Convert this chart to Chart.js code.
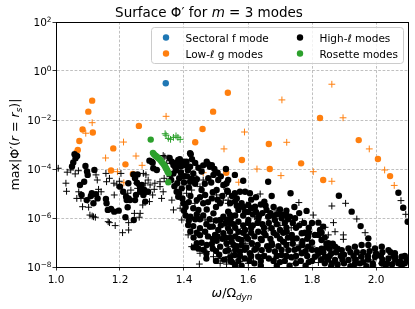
<!DOCTYPE html>
<html><head><meta charset="utf-8">
<script src="https://cdn.jsdelivr.net/npm/chart.js@4/dist/chart.umd.min.js"></script>
<style>html,body{margin:0;padding:0;background:#fff;}canvas{display:block;}</style>
</head><body>
<canvas id="c" width="415" height="309"></canvas>
<script>
// ---- data: [omega/Omega_dyn, log10(max|Phi'|)] ----
const xTickValues = [1.0, 1.2, 1.4, 1.6, 1.8, 2.0];
const yTickExponents = [-8, -6, -4, -2, 0, 2];

const sectoralCircles = [[1.343, -0.50]];

const lowCircles = [[1.068,-3.22],[1.073,-2.86],[1.083,-2.39],[1.101,-1.66],[1.113,-1.21],[1.115,-2.51],[1.172,-4.06],[1.179,-3.16],[1.217,-3.81],[1.240,-4.20],[1.259,-2.24],[1.435,-2.91],[1.458,-2.37],[1.491,-1.66],[1.537,-0.89],[1.532,-4.15],[1.581,-3.63],[1.665,-2.98],[1.668,-4.00],[1.766,-3.77],[1.825,-1.92],[1.835,-4.45],[1.946,-2.82],[2.006,-3.59],[2.044,-4.29]];

const lowPluses = [[1.066,-3.24],[1.093,-2.54],[1.113,-2.11],[1.155,-3.55],[1.192,-4.11],[1.211,-2.90],[1.212,-4.56],[1.250,-3.47],[1.269,-3.85],[1.344,-1.85],[1.460,-4.15],[1.525,-3.18],[1.571,-4.54],[1.589,-2.49],[1.628,-4.00],[1.703,-4.27],[1.706,-1.18],[1.721,-2.91],[1.804,-4.11],[1.862,-0.54],[1.862,-4.50],[1.897,-1.91],[1.979,-3.18],[2.027,-4.04],[2.057,-4.67]];

const roseCircles = [[1.296,-2.80],[1.303,-3.34],[1.306,-3.40],[1.310,-3.45],[1.313,-3.48],[1.317,-3.52],[1.321,-3.57],[1.326,-3.63],[1.330,-3.70],[1.334,-3.77],[1.338,-3.84],[1.341,-3.90],[1.344,-3.97],[1.347,-4.04],[1.349,-4.11],[1.352,-4.17],[1.351,-4.54]];

const rosePluses = [[1.341,-2.56],[1.344,-2.62],[1.351,-2.75],[1.358,-2.79],[1.367,-2.71],[1.375,-2.65],[1.381,-2.71],[1.388,-2.79]];

const highCircles = [
[1.054,-3.73],[1.058,-3.40],[1.061,-3.56],[1.075,-4.65],[1.080,-5.06],[1.088,-4.52],[1.092,-3.88],[1.097,-4.10],[1.099,-4.24],[1.096,-5.27],
[1.109,-5.10],[1.112,-4.99],[1.117,-5.40],[1.120,-4.04],[1.125,-5.03],[1.130,-5.20],[1.156,-5.22],[1.158,-5.40],[1.162,-5.67],[1.172,-5.63],
[1.182,-5.74],[1.196,-5.70],[1.200,-4.72],[1.210,-4.93],[1.217,-5.97],[1.219,-5.13],[1.221,-5.27],[1.227,-5.20],[1.224,-5.56],[1.226,-4.58],
[1.231,-5.27],[1.242,-4.22],[1.243,-6.08],[1.247,-4.38],[1.247,-5.27],[1.250,-5.06],[1.253,-4.56],[1.255,-4.22],[1.263,-4.93],[1.263,-4.72],
[1.268,-4.65],[1.273,-5.06],[1.276,-4.86],[1.279,-5.33],[1.288,-4.93],[1.292,-3.66],[1.299,-3.70],[1.302,-3.74],[1.304,-3.97],[1.315,-4.04],
[1.050,-3.90],[1.066,-3.47],
[1.367,-3.84],[1.372,-3.91],[1.382,-3.63],[1.387,-3.60],[1.393,-3.77],[1.400,-3.70],[1.408,-3.70],[1.419,-3.36],[1.421,-3.40],[1.419,-3.91],
[1.429,-4.18],[1.367,-4.18],[1.385,-4.38],[1.398,-4.31],[1.379,-4.58],[1.393,-4.79],[1.377,-4.93],[1.382,-5.13],[1.398,-5.40],[1.419,-4.52],
[1.440,-4.42],[1.471,-3.70],[1.476,-3.80],[1.481,-3.91],[1.487,-3.84],[1.476,-4.38],[1.492,-4.24],[1.507,-4.45],[1.523,-4.65],[1.535,-4.89],
[1.455,-4.86],[1.466,-5.06],[1.487,-5.20],[1.502,-4.86],[1.513,-5.40],[1.440,-5.27],[1.429,-5.60],[1.445,-5.67],[1.471,-5.65],[1.492,-5.81],
[1.413,-6.29],[1.429,-6.33],[1.450,-6.42],[1.466,-6.56],[1.481,-6.36],[1.497,-6.69],[1.507,-6.49],[1.523,-6.62],[1.538,-6.42],[1.440,-7.03],
[1.455,-7.01],[1.471,-7.10],[1.487,-7.06],[1.502,-6.93],[1.513,-7.17],[1.533,-7.03],[1.523,-5.95],[1.538,-5.74],[1.513,-6.08],[1.531,-4.00],
[1.420,-5.95],[1.450,-6.05],[1.480,-6.05],[1.400,-5.70],[1.460,-5.40],[1.500,-5.55],[1.420,-5.10],[1.450,-6.70],[1.430,-6.80],[1.460,-7.30],
[1.500,-7.35],[1.520,-6.85],
[1.355,-3.55],[1.362,-3.70],[1.375,-3.75],[1.390,-3.90],[1.405,-3.85],[1.412,-4.05],[1.425,-3.60],[1.435,-3.75],[1.445,-3.95],[1.455,-4.10],
[1.460,-3.85],[1.375,-4.05],[1.390,-4.15],[1.410,-4.30],[1.425,-4.40],[1.360,-4.45],[1.370,-4.70],[1.400,-4.55],[1.415,-4.75],[1.435,-4.60],
[1.465,-4.60],[1.485,-4.55],[1.495,-4.00],[1.505,-4.15],[1.515,-4.30],[1.385,-5.00],[1.395,-5.20],[1.405,-5.55],[1.415,-5.35],[1.450,-5.15],
[1.475,-5.35],[1.490,-4.95],[1.505,-5.25],[1.520,-5.10],
[1.405,-5.90],[1.415,-6.10],[1.435,-6.05],[1.440,-5.85],[1.460,-5.90],[1.470,-6.25],[1.490,-6.35],[1.500,-6.10],[1.515,-6.30],[1.530,-6.20],
[1.545,-6.05],[1.420,-6.55],[1.440,-6.60],[1.475,-6.75],[1.490,-6.85],[1.505,-6.75],[1.530,-6.80],[1.545,-6.80],[1.430,-7.20],[1.445,-7.25],
[1.470,-7.45],[1.490,-7.25],[1.510,-7.50],[1.530,-7.35],[1.545,-7.60],[1.525,-7.70],[1.500,-7.75],[1.470,-7.65],[1.560,-7.95],
[1.559,-4.24],[1.585,-4.48],[1.663,-4.52],[1.674,-5.10],[1.733,-4.99],[1.783,-5.71],[1.651,-5.33],[1.622,-5.54],[1.658,-5.67],[1.538,-4.45],
[1.533,-4.58],[1.537,-4.93],[1.559,-4.99],[1.575,-4.93],[1.591,-4.93],[1.606,-4.99],[1.544,-5.40],[1.559,-5.33],[1.580,-5.40],[1.601,-5.47],
[1.570,-5.67],[1.591,-5.74],[1.544,-5.88],[1.533,-6.08],[1.570,-6.15],[1.601,-6.08],[1.632,-6.01],[1.663,-5.95],[1.684,-6.08],[1.705,-6.01],
[1.731,-5.95],[1.747,-6.01],[1.544,-6.56],[1.570,-6.56],[1.591,-6.49],[1.632,-6.56],[1.674,-6.42],[1.700,-6.49],[1.721,-6.56],[1.737,-6.69],
[1.752,-6.83],[1.768,-6.62],[1.788,-6.76],[1.809,-6.69],[1.549,-6.97],[1.580,-6.90],[1.612,-7.03],[1.643,-6.90],[1.674,-7.03],[1.710,-6.97],
[1.538,-7.31],[1.575,-7.37],[1.606,-7.44],[1.643,-7.31],[1.684,-7.37],[1.726,-7.31],[1.757,-7.24],[1.788,-7.17],[1.815,-7.31],[1.559,-7.51],
[1.632,-7.58],[1.705,-7.51],[1.768,-7.44],[1.809,-7.58],[1.700,-5.65],[1.778,-6.60],[1.820,-6.19],[1.825,-6.49],
[1.550,-5.10],[1.565,-5.20],[1.610,-5.25],[1.625,-5.15],[1.640,-5.45],[1.600,-5.75],[1.615,-5.85],[1.645,-5.80],[1.680,-5.55],[1.690,-5.85],
[1.720,-5.70],[1.745,-5.55],[1.760,-5.80],[1.555,-6.25],[1.585,-6.30],[1.615,-6.30],[1.645,-6.25],[1.690,-6.25],[1.715,-6.20],[1.760,-6.30],
[1.790,-6.40],[1.560,-6.75],[1.595,-6.75],[1.620,-6.75],[1.655,-6.70],[1.690,-6.70],[1.725,-6.80],[1.770,-6.95],[1.800,-7.00],[1.565,-7.15],
[1.595,-7.20],[1.625,-7.25],[1.660,-7.15],[1.695,-7.15],[1.740,-7.05],[1.780,-7.35],[1.590,-7.65],[1.665,-7.65],[1.735,-7.60],[1.790,-7.80],
[1.550,-7.80],[1.620,-7.85],[1.700,-7.80],[1.750,-7.85],
[1.565,-5.50],[1.585,-5.55],[1.610,-5.60],[1.625,-5.75],[1.655,-5.50],[1.670,-5.80],[1.705,-5.85],[1.725,-6.05],
[1.560,-5.90],[1.585,-5.90],[1.635,-5.90],[1.675,-5.90],[1.720,-5.90],[1.545,-6.20],[1.600,-6.20],[1.630,-6.20],[1.665,-6.20],[1.740,-6.20],
[1.775,-6.20],[1.800,-6.20],[1.560,-6.40],[1.610,-6.40],[1.650,-6.40],[1.720,-6.40],[1.750,-6.40],[1.585,-6.60],[1.610,-6.60],[1.650,-6.60],
[1.680,-6.60],[1.710,-6.60],[1.790,-6.60],[1.570,-6.85],[1.600,-6.85],[1.640,-6.85],[1.670,-6.85],[1.700,-6.85],[1.740,-6.85],[1.785,-6.85],
[1.555,-7.10],[1.580,-7.10],[1.630,-7.10],[1.675,-7.10],[1.720,-7.10],[1.770,-7.10],[1.560,-7.30],[1.590,-7.30],[1.620,-7.30],[1.665,-7.30],
[1.705,-7.30],[1.745,-7.30],[1.800,-7.30],[1.575,-7.55],[1.610,-7.55],[1.650,-7.55],[1.690,-7.55],[1.720,-7.55],[1.750,-7.55],[1.785,-7.55],
[1.545,-7.75],[1.570,-7.75],[1.605,-7.75],[1.640,-7.75],[1.680,-7.75],[1.715,-7.75],[1.765,-7.75],[1.800,-7.75],[1.580,-7.95],[1.640,-7.95],
[1.690,-7.95],[1.730,-7.95],[1.780,-7.95],
[1.884,-5.09],[1.924,-5.74],[1.952,-6.33],[1.976,-6.83],[1.997,-7.24],[2.070,-4.97],[2.085,-5.58],[2.099,-6.15],[1.820,-6.69],[1.830,-6.90],
[1.851,-7.03],[1.872,-7.17],[1.893,-7.31],[1.914,-7.24],[1.934,-7.17],[1.955,-7.10],[1.976,-7.10],[2.018,-7.17],[2.039,-7.31],[2.059,-7.44],
[2.080,-7.58],[2.096,-7.71],[1.820,-7.44],[1.841,-7.58],[1.872,-7.71],[1.914,-7.71],[1.955,-7.58],[1.997,-7.58],[2.039,-7.65],[2.075,-7.78],
[1.862,-7.85],[1.934,-7.88],[2.018,-7.85],[2.090,-7.85],[1.860,-7.45],[1.900,-7.50],[1.940,-7.40],[1.980,-7.35],[2.000,-7.45],[2.060,-7.60],
[1.880,-7.90],[1.960,-7.80],[2.050,-7.90],[1.845,-7.20],[1.990,-7.95],
[1.845,-7.05],[1.865,-7.05],[1.830,-7.25],[1.855,-7.25],[1.880,-7.25],[1.835,-7.40],[1.875,-7.40],[1.920,-7.40],[1.960,-7.40],[2.020,-7.40],
[2.045,-7.40],[1.855,-7.55],[1.890,-7.55],[1.930,-7.55],[1.975,-7.55],[2.015,-7.55],[2.055,-7.55],[2.090,-7.55],[1.830,-7.70],[1.850,-7.70],
[1.895,-7.70],[1.935,-7.70],[1.975,-7.70],[2.020,-7.70],[2.060,-7.70],[1.840,-7.85],[1.900,-7.85],[1.950,-7.85],[1.990,-7.85],[2.035,-7.85],
[2.070,-7.85],[1.860,-7.97],[1.920,-7.97],[1.970,-7.97],[2.030,-7.97],[2.080,-7.97],[1.835,-6.35],[1.830,-6.60],[1.840,-6.80]
];

const highPluses = [
[1.007,-3.97],[1.035,-4.13],[1.046,-4.04],[1.060,-4.20],[1.070,-4.07],[1.031,-4.58],[1.033,-4.91],[1.065,-5.20],[1.078,-5.20],[1.071,-4.93],
[1.083,-5.54],[1.099,-5.27],[1.102,-5.56],[1.106,-5.88],[1.113,-5.92],[1.117,-5.95],[1.123,-5.97],[1.125,-4.24],[1.129,-4.45],[1.133,-4.83],
[1.141,-4.93],[1.156,-4.18],[1.158,-4.52],[1.167,-4.38],[1.163,-6.15],[1.167,-6.19],[1.181,-4.58],[1.190,-4.65],[1.182,-5.06],[1.185,-6.31],
[1.198,-4.50],[1.203,-4.18],[1.208,-6.60],[1.227,-6.49],[1.227,-6.19],[1.224,-4.99],[1.234,-4.86],[1.245,-5.81],[1.252,-4.58],[1.255,-4.79],
[1.260,-5.97],[1.263,-5.81],[1.271,-5.47],[1.273,-4.18],[1.279,-4.58],[1.281,-4.24],[1.283,-4.93],[1.288,-4.45],[1.292,-5.33],[1.294,-4.65],
[1.302,-5.06],[1.307,-4.83],[1.309,-4.58],[1.325,-4.52],[1.325,-4.72],[1.335,-4.93],[1.330,-5.20],[1.338,-4.38],[1.346,-4.04],[1.346,-4.52],
[1.335,-3.45],[1.340,-3.50],[1.350,-3.55],[1.346,-3.77],[1.356,-4.31],[1.362,-5.27],[1.367,-5.67],[1.388,-5.60],[1.393,-6.08],[1.413,-6.69],
[1.424,-7.17],[1.450,-7.44],[1.471,-7.37],[1.492,-7.58],[1.513,-7.65],[1.538,-7.58],[1.513,-7.85],[1.440,-4.38],[1.460,-4.45],[1.450,-4.72],
[1.424,-4.86],[1.408,-4.99],[1.434,-5.40],[1.502,-5.06],[1.523,-5.27],[1.538,-5.40],[1.466,-6.08],[1.492,-6.15],[1.398,-4.18],[1.448,-7.88],
[1.533,-7.88],[1.554,-7.82],[1.575,-7.78],[1.601,-7.85],[1.617,-7.78],[1.747,-7.85],[1.820,-7.82],[2.018,-7.85],
[1.638,-5.02],[1.759,-5.37],[1.804,-5.88],[1.690,-5.71],[1.533,-4.99],[1.538,-5.27],[1.575,-5.54],[1.596,-5.47],[1.554,-5.95],[1.533,-6.36],
[1.585,-6.42],[1.612,-6.36],[1.663,-6.42],[1.538,-7.17],[1.549,-7.44],[1.570,-7.58],[1.601,-7.65],[1.617,-7.17],[1.632,-7.51],[1.658,-7.58],
[1.679,-7.71],[1.747,-7.71],[1.778,-7.31],[1.533,-7.71],[1.591,-7.03],[1.525,-4.72],[1.620,-5.95],[1.640,-6.20],[1.700,-6.30],[1.735,-6.40],
[1.770,-6.15],[1.790,-6.55],[1.720,-7.00],[1.760,-7.10],[1.800,-7.15],[1.690,-7.45],
[1.905,-5.40],[1.940,-6.04],[1.966,-6.60],[1.862,-5.51],[2.078,-5.29],[2.093,-5.85],[1.841,-6.38],[1.867,-6.19],[1.872,-6.56],[1.898,-6.69],
[1.898,-6.87],[1.851,-6.69],[1.820,-7.58],[1.945,-7.61],[1.992,-7.71],[2.059,-7.78]
];

// ---- rendering ----
const FAM = '"DejaVu Sans", sans-serif';
const toPts = arr => arr.map(([x, e]) => ({x: x, y: Math.pow(10, e)}));
const C_BLUE = '#1f77b4', C_ORANGE = '#ff7f0e', C_GREEN = '#2ca02c', C_BLACK = '#000000';

function circ(label, pts, color, order) {
  return {label, data: toPts(pts), pointStyle: 'circle', pointRadius: 3.2, pointHoverRadius: 3.2,
    backgroundColor: color, borderColor: color, borderWidth: 0, showLine: false, order, clip: 0};
}
function plus(label, pts, color, order) {
  return {label, data: toPts(pts), pointStyle: 'cross', pointRadius: 3.4, pointHoverRadius: 3.4,
    backgroundColor: color, borderColor: color, borderWidth: 1, showLine: false, order, clip: 0};
}

function fnt(size, it) { return (it ? 'italic ' : '') + size + 'px ' + FAM; }
function drawRich(ctx, parts, size, x, y, align) {
  let w = 0;
  const items = parts.map(p => {
    const s = (p.sub || p.sup) ? size * 0.7 : size;
    ctx.font = fnt(s, p.it);
    const pw = ctx.measureText(p.t).width;
    w += pw;
    return {p, s, pw};
  });
  let cx = align === 'center' ? x - w / 2 : (align === 'right' ? x - w : x);
  ctx.textAlign = 'left';
  ctx.textBaseline = 'alphabetic';
  for (const it of items) {
    ctx.font = fnt(it.s, it.p.it);
    const dy = it.p.sub ? size * 0.22 : (it.p.sup ? -size * 0.42 : 0);
    ctx.fillText(it.p.t, cx, y + dy);
    cx += it.pw;
  }
}

const decor = {
  id: 'decor',
  afterDraw(chart) {
    const ctx = chart.ctx, a = chart.chartArea;
    const xs = chart.scales.x, ys = chart.scales.y;
    ctx.save();
    ctx.fillStyle = '#000';
    ctx.strokeStyle = '#000'; ctx.lineWidth = 1;
    ctx.strokeRect(Math.round(a.left) + 0.5, Math.round(a.top) + 0.5, Math.round(a.right - a.left), Math.round(a.bottom - a.top));
    xTickValues.forEach(v => {
      drawRich(ctx, [{t: v.toFixed(1)}], 10.5, xs.getPixelForValue(v), a.bottom + 16, 'center');
    });
    yTickExponents.forEach(e => {
      const py = ys.getPixelForValue(Math.pow(10, e));
      drawRich(ctx, [{t: '10'}, {t: e < 0 ? '\u2212' + (-e) : String(e), sup: true}], 10.5, a.left - 4.5, py + 4, 'right');
    });
    drawRich(ctx, [{t: 'Surface \u03A6\u2032 for '}, {t: 'm', it: true}, {t: ' = 3 modes'}], 13.5, 209, 17, 'center');
    drawRich(ctx, [{t: '\u03C9', it: true}, {t: '/\u03A9'}, {t: 'dyn', it: true, sub: true}], 12.6, (a.left + a.right) / 2, 297, 'center');
    ctx.save();
    ctx.translate(19, (a.top + a.bottom) / 2);
    ctx.rotate(-Math.PI / 2);
    drawRich(ctx, [{t: 'max|\u03A6\u2032('}, {t: 'r', it: true}, {t: ' = '}, {t: 'r', it: true}, {t: 's', it: true, sub: true}, {t: ')|'}], 12.6, 0, 0, 'center');
    ctx.restore();
    const bx = 151.5, by = 27.5, bw = 252, bh = 36, r = 3;
    ctx.beginPath();
    ctx.moveTo(bx + r, by); ctx.lineTo(bx + bw - r, by); ctx.arcTo(bx + bw, by, bx + bw, by + r, r);
    ctx.lineTo(bx + bw, by + bh - r); ctx.arcTo(bx + bw, by + bh, bx + bw - r, by + bh, r);
    ctx.lineTo(bx + r, by + bh); ctx.arcTo(bx, by + bh, bx, by + bh - r, r);
    ctx.lineTo(bx, by + r); ctx.arcTo(bx, by, bx + r, by, r); ctx.closePath();
    ctx.fillStyle = 'rgba(255,255,255,0.8)'; ctx.fill();
    ctx.strokeStyle = '#cccccc'; ctx.lineWidth = 1; ctx.stroke();
    const entries = [
      {c: C_BLUE, x: 166, y: 37.5, parts: [{t: 'Sectoral f mode'}]},
      {c: C_ORANGE, x: 166, y: 53.5, parts: [{t: 'Low-'}, {t: '\u2113', it: true}, {t: ' g modes'}]},
      {c: C_BLACK, x: 300, y: 37.5, parts: [{t: 'High-'}, {t: '\u2113', it: true}, {t: ' modes'}]},
      {c: C_GREEN, x: 300, y: 53.5, parts: [{t: 'Rosette modes'}]}
    ];
    entries.forEach(en => {
      ctx.beginPath(); ctx.arc(en.x, en.y, 3.2, 0, Math.PI * 2); ctx.fillStyle = en.c; ctx.fill();
      ctx.fillStyle = '#000';
      drawRich(ctx, en.parts, 10.5, en.x + 19.5, en.y + 4, 'left');
    });
    ctx.restore();
  }
};

new Chart(document.getElementById('c'), {
  type: 'scatter',
  data: {
    datasets: [
      circ('Rosette modes', roseCircles, C_GREEN, 0),
      plus('Rosette modes (+)', rosePluses, C_GREEN, 0),
      circ('High-\u2113 modes', highCircles, C_BLACK, 1),
      plus('High-\u2113 modes (+)', highPluses, C_BLACK, 1),
      circ('Low-\u2113 g modes', lowCircles, C_ORANGE, 2),
      plus('Low-\u2113 g modes (+)', lowPluses, C_ORANGE, 2),
      circ('Sectoral f mode', sectoralCircles, C_BLUE, 3)
    ]
  },
  options: {
    responsive: false,
    animation: false,
    devicePixelRatio: 1,
    layout: {padding: {top: 22, right: 7, left: 0, bottom: 0}},
    plugins: {legend: {display: false}, tooltip: {enabled: false}, title: {display: false}},
    events: [],
    scales: {
      x: {
        type: 'linear', min: 1.0, max: 2.1,
        afterBuildTicks: s => { s.ticks = xTickValues.map(v => ({value: v})); },
        afterFit: s => { s.height = 42; },
        ticks: {display: false},
        grid: {color: '#b0b0b0', lineWidth: 0.8, drawTicks: true, tickLength: 3.5, tickColor: '#000', tickWidth: 0.8},
        border: {display: true, color: '#000', width: 1, dash: [2.7, 1.7]}
      },
      y: {
        type: 'logarithmic', min: 1e-8, max: 1e2,
        afterBuildTicks: s => { s.ticks = yTickExponents.map(e => ({value: Math.pow(10, e)})); },
        afterFit: s => { s.width = 56; },
        ticks: {display: false},
        grid: {color: '#b0b0b0', lineWidth: 0.8, drawTicks: true, tickLength: 3.5, tickColor: '#000', tickWidth: 0.8},
        border: {display: true, color: '#000', width: 1, dash: [2.7, 1.7]}
      }
    }
  },
  plugins: [decor]
});
</script>
</body></html>
